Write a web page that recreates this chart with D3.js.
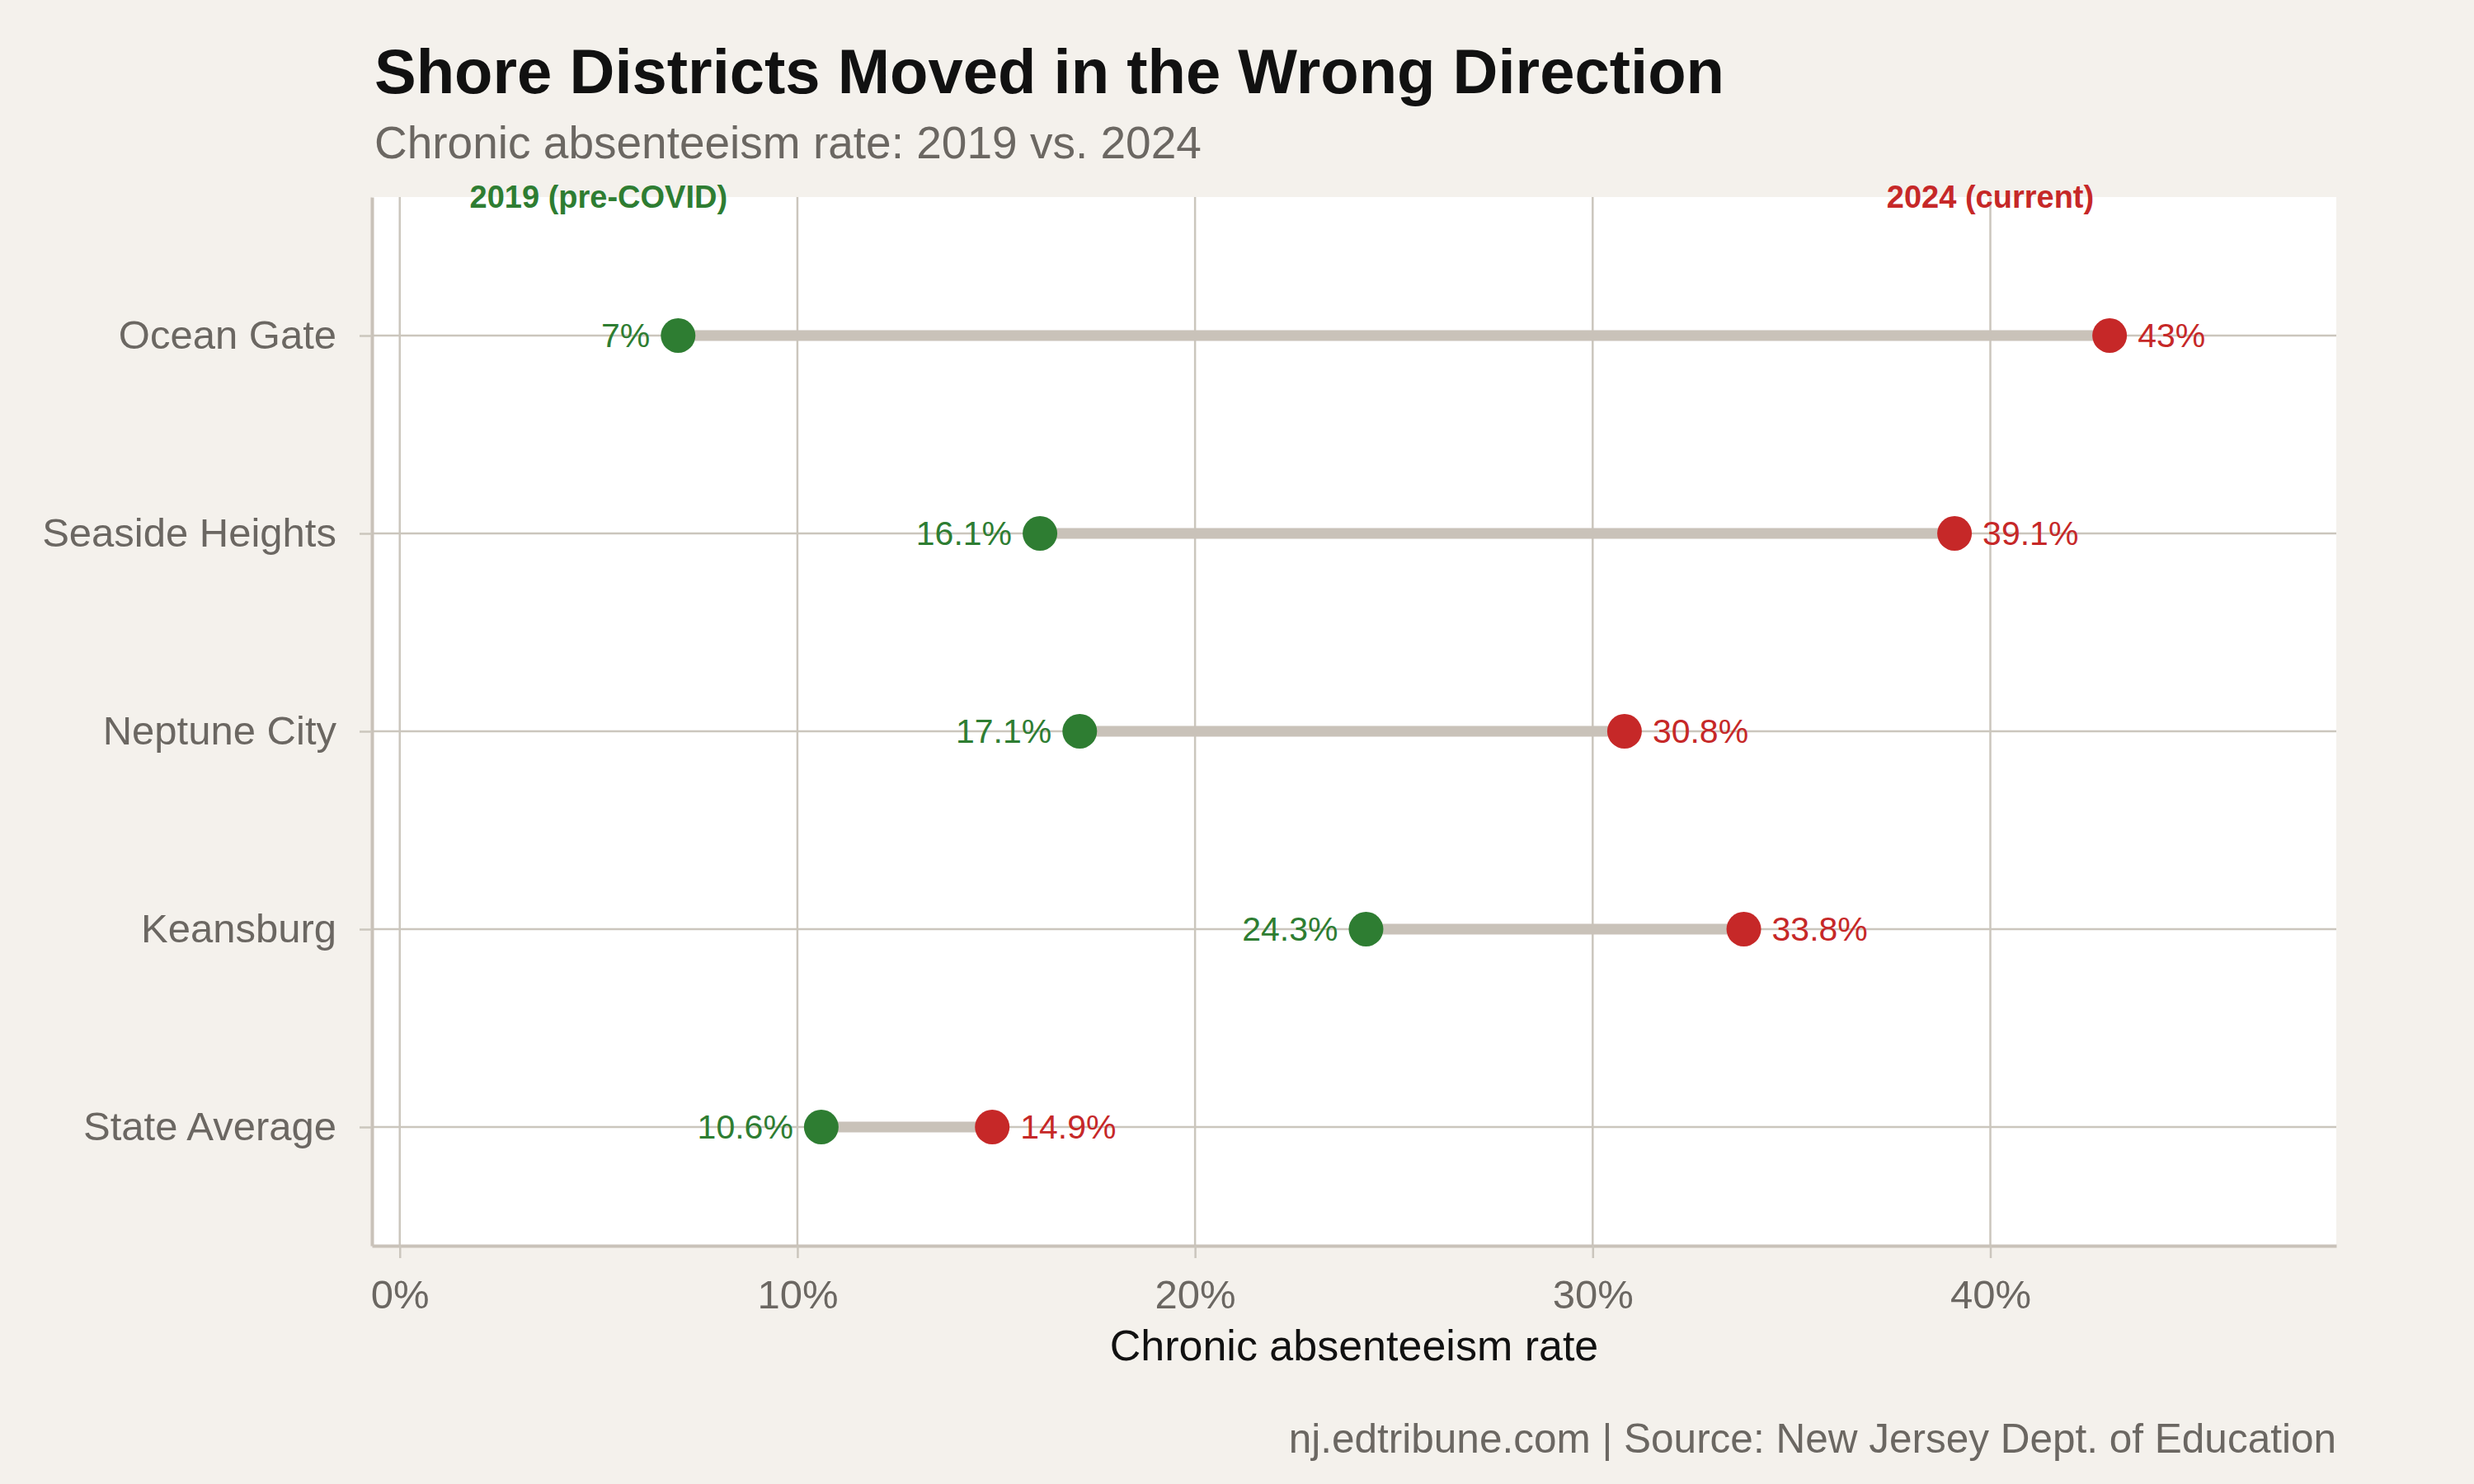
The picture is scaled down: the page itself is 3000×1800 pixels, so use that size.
<!DOCTYPE html>
<html lang="en">
<head>
    <meta charset="UTF-8">
    <title>Shore Districts Moved in the Wrong Direction</title>
    <script src="https://d3js.org/d3.v7.min.js"></script>
    <style>
        body {
            margin: 0;
            background: #f4f1ec;
            font-family: "Liberation Sans", Arial, sans-serif;
        }
    </style>
</head>
<body>
    <svg id="chart" width="3000" height="1800"></svg>

    <script>
        // data
        const districts = ["Ocean Gate", "Seaside Heights", "Neptune City", "Keansburg", "State Average"];
        const rate2019 = [7, 16.1, 17.1, 24.3, 10.6];
        const rate2024 = [43, 39.1, 30.8, 33.8, 14.9];
        const xTicks = [0, 10, 20, 30, 40];

        const green = "#2e7d32";
        const red = "#c62828";
        const lineCol = "#c9c2b9";
        const gridCol = "#cbc6bd";

        const W = 3000, H = 1800;
        const margin = {top: 239, right: 167, bottom: 289, left: 451};
        const pw = W - margin.left - margin.right;
        const ph = H - margin.top - margin.bottom;

        let svg = d3.select("#chart");
        svg.append("rect").attr("width", W).attr("height", H).attr("fill", "#f4f1ec");

        let x = d3.scaleLinear().domain([-0.7, 48.7]).range([0, pw]);
        let y = d3.scaleLinear().domain([-0.7, 4.6]).range([0, ph]);

        // title + subtitle
        svg.append("text")
            .attr("x", 454).attr("y", 113)
            .attr("font-size", 76).attr("font-weight", "bold")
            .attr("fill", "#111")
            .text("Shore Districts Moved in the Wrong Direction");
        svg.append("text")
            .attr("x", 454).attr("y", 192)
            .attr("font-size", 55)
            .attr("fill", "#6b6762")
            .text("Chronic absenteeism rate: 2019 vs. 2024");

        let g = svg.append("g").attr("transform", `translate(${margin.left},${margin.top})`);

        g.append("rect").attr("width", pw).attr("height", ph).attr("fill", "#fff");

        // grid
        g.selectAll(".vgrid").data(xTicks).enter().append("line")
            .attr("x1", d => x(d)).attr("x2", d => x(d))
            .attr("y1", 0).attr("y2", ph)
            .attr("stroke", gridCol).attr("stroke-width", 2.5);
        g.selectAll(".hgrid").data(districts).enter().append("line")
            .attr("x1", 0).attr("x2", pw)
            .attr("y1", (d, i) => y(i)).attr("y2", (d, i) => y(i))
            .attr("stroke", gridCol).attr("stroke-width", 2.5);

        // axes
        let xAxis = g.append("g").attr("transform", `translate(0,${ph})`)
            .call(d3.axisBottom(x).tickValues(xTicks).tickFormat(d => d + "%")
                .tickSize(15).tickSizeOuter(0).tickPadding(26));
        xAxis.select(".domain").attr("stroke", lineCol).attr("stroke-width", 4);
        xAxis.selectAll(".tick line").attr("stroke", gridCol).attr("stroke-width", 2.5);
        xAxis.selectAll("text").attr("font-size", 49).attr("fill", "#6b6762")
            .attr("font-family", "'Liberation Sans', Arial, sans-serif");

        let yAxis = g.append("g")
            .call(d3.axisLeft(y).tickValues(d3.range(districts.length)).tickFormat(i => districts[i])
                .tickSize(15).tickSizeOuter(0).tickPadding(28));
        yAxis.select(".domain").attr("stroke", lineCol).attr("stroke-width", 4);
        yAxis.selectAll(".tick line").attr("stroke", gridCol).attr("stroke-width", 2.5);
        yAxis.selectAll("text").attr("font-size", 49).attr("fill", "#6b6762")
            .attr("font-family", "'Liberation Sans', Arial, sans-serif");

        // dumbbells
        g.selectAll(".seg").data(districts).enter().append("line")
            .attr("x1", (d, i) => x(rate2019[i])).attr("x2", (d, i) => x(rate2024[i]))
            .attr("y1", (d, i) => y(i)).attr("y2", (d, i) => y(i))
            .attr("stroke", lineCol).attr("stroke-width", 13);

        g.selectAll(".p19").data(rate2019).enter().append("circle")
            .attr("cx", d => x(d)).attr("cy", (d, i) => y(i)).attr("r", 21)
            .attr("fill", green);
        g.selectAll(".p24").data(rate2024).enter().append("circle")
            .attr("cx", d => x(d)).attr("cy", (d, i) => y(i)).attr("r", 21)
            .attr("fill", red);

        // value labels
        g.selectAll(".l19").data(rate2019).enter().append("text")
            .attr("x", d => x(d) - 34).attr("y", (d, i) => y(i)).attr("dy", "0.35em")
            .attr("text-anchor", "end").attr("font-size", 41).attr("fill", green)
            .text(d => d + "%");
        g.selectAll(".l24").data(rate2024).enter().append("text")
            .attr("x", d => x(d) + 34).attr("y", (d, i) => y(i)).attr("dy", "0.35em")
            .attr("text-anchor", "start").attr("font-size", 41).attr("fill", red)
            .text(d => d + "%");

        // series labels at top
        g.append("text")
            .attr("x", x(5)).attr("y", y(-0.7)).attr("dy", "0.35em")
            .attr("text-anchor", "middle").attr("font-size", 38).attr("font-weight", "bold")
            .attr("fill", green).text("2019 (pre-COVID)");
        g.append("text")
            .attr("x", x(40)).attr("y", y(-0.7)).attr("dy", "0.35em")
            .attr("text-anchor", "middle").attr("font-size", 38).attr("font-weight", "bold")
            .attr("fill", red).text("2024 (current)");

        // axis title
        g.append("text")
            .attr("x", pw / 2).attr("y", ph + 139)
            .attr("text-anchor", "middle").attr("font-size", 52).attr("fill", "#111")
            .text("Chronic absenteeism rate");

        // caption
        svg.append("text")
            .attr("x", W - margin.right).attr("y", 1762)
            .attr("text-anchor", "end").attr("font-size", 49.5).attr("fill", "#6b6762")
            .text("nj.edtribune.com | Source: New Jersey Dept. of Education");
    </script>
</body>
</html>
